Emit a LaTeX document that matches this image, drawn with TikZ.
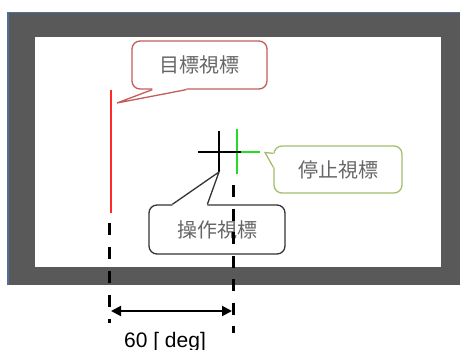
\documentclass[tikz,border=0pt]{standalone}
\usepackage{fontspec}
\setmainfont{Liberation Sans}
\newfontfamily\cjk{Noto Sans CJK JP}
\usetikzlibrary{calc,arrows.meta}
\definecolor{framegray}{HTML}{595959}
\definecolor{frameblue}{HTML}{4F6F99}
\definecolor{calred}{HTML}{C65B5B}
\definecolor{calgreen}{HTML}{A3BE6A}
\definecolor{calblack}{HTML}{333333}
\definecolor{txtgray}{HTML}{666666}
\definecolor{markred}{HTML}{FF2A2A}
\definecolor{markgreen}{HTML}{22DD22}
\begin{document}
\begin{tikzpicture}[x=1pt,y=-1pt,
  calloutbox/.style={draw, fill=white, rounded corners=8pt, line width=1.3pt,
    inner sep=0pt, text=txtgray, font=\cjk\fontsize{20}{24}\selectfont},
  ptr/.style={line width=1.3pt, line join=miter},
  markline/.style={line width=2.5pt},
  guideline/.style={line width=3pt, black},
  dimarrow/.style={line width=2pt, black,
    {Triangle[length=10pt,width=10pt]}-{Triangle[length=10pt,width=10pt]}}]
\useasboundingbox (0,0) rectangle (460,350);
% screen frame
\fill[framegray] (7,12) rectangle (460,285);
\draw[frameblue, line width=1.5pt] (7.75,285) -- (7.75,12.75) -- (460,12.75);
\fill[white] (35,37) rectangle (441,267);
% marks
\draw[markred, markline] (111,90) -- (111,213);
\draw[markgreen, markline] (237,129) -- (237,174);
\draw[markgreen, markline] (215,152) -- (260,152);
\draw[black, markline] (219,131) -- (219,172);
\draw[black, markline] (198,152) -- (241,152);
% callouts
\node[calloutbox, draw=calred, minimum width=135pt, minimum height=48pt] (tgt) at (199.5,65) {目標視標};
\coordinate (tgttip) at (117,103);
\fill[white] ($(tgt.south west)+(21,-2)$) -- ($(tgt.south west)+(21,0)$) -- (tgttip) -- ($(tgt.south west)+(55,0)$) -- ($(tgt.south west)+(55,-2)$) -- cycle;
\draw[ptr, calred] ($(tgt.south west)+(21,0)$) -- (tgttip) -- ($(tgt.south west)+(55,0)$);

\node[calloutbox, draw=calgreen, minimum width=128pt, minimum height=47pt] (stp) at (338,169.5) {停止視標};
\coordinate (stptip) at (265,152.5);
\fill[white] ($(stp.north west)+(2,8)$) -- ($(stp.north west)+(0,8)$) -- (stptip) -- ($(stp.north west)+(0,22)$) -- ($(stp.north west)+(2,22)$) -- cycle;
\draw[ptr, calgreen] ($(stp.north west)+(0,8)$) -- (stptip) -- ($(stp.north west)+(0,22)$);

\node[calloutbox, draw=calblack, minimum width=136pt, minimum height=49pt] (ope) at (217,229.5) {操作視標};
\coordinate (opetip) at (219,172);
\fill[white] ($(ope.north west)+(24,2)$) -- ($(ope.north west)+(24,0)$) -- (opetip) -- ($(ope.north west)+(59,0)$) -- ($(ope.north west)+(59,2)$) -- cycle;
\draw[ptr, calblack] ($(ope.north west)+(24,0)$) -- (opetip) -- ($(ope.north west)+(59,0)$);
% guide lines
\coordinate (gl1) at (109,223);
\coordinate (gl2) at (109,323);
\coordinate (gr1) at (233,185);
\coordinate (gr2) at (233,333);
\draw[guideline, dash pattern=on 12pt off 12pt] (gl1) -- (gl2);
\draw[guideline, dash pattern=on 12pt off 11.5pt] (gr1) -- (gr2);
% dimension
\coordinate (da) at (111,311);
\coordinate (db) at (232,311);
\draw[dimarrow] (da) -- (db);
\node[font=\fontsize{21}{24}\selectfont, anchor=base, inner sep=0pt] (lbl) at (165,347) {60 [ deg]};
\end{tikzpicture}
\end{document}
